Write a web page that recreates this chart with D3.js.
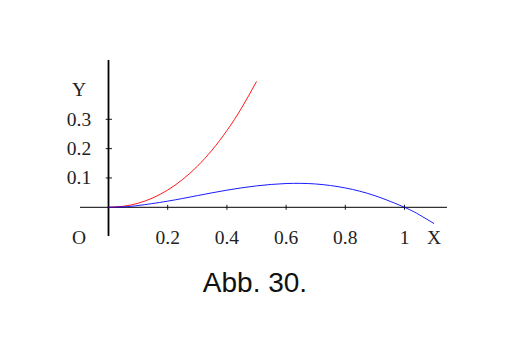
<!DOCTYPE html>
<html><head><meta charset="utf-8">
<script src="https://cdn.jsdelivr.net/npm/d3@7"></script>
<style>body{margin:0;background:#fff}svg{display:block}</style>
</head><body>
<script>
const redX = [0, 0.05, 0.1, 0.15, 0.2, 0.25, 0.3, 0.35, 0.4, 0.45, 0.5];
const redY = [0, 0.0034, 0.0139, 0.0322, 0.0589, 0.0945, 0.1398, 0.1952, 0.2614, 0.3391, 0.4288];
const blueX = [0, 0.05, 0.1, 0.2, 0.3, 0.4, 0.5, 0.6, 0.7, 0.8, 0.9, 1.0, 1.05, 1.1];
const blueY = [0, 0.0016, 0.0061, 0.021, 0.0398, 0.0584, 0.0730, 0.0810, 0.0795, 0.0660, 0.0395, 0, -0.0255, -0.0555];
const xTicks = [0.2, 0.4, 0.6, 0.8, 1];
const xTickLabels = ["0.2", "0.4", "0.6", "0.8", "1"];
const yTicks = [0.1, 0.2, 0.3];
const yTickLabels = ["0.1", "0.2", "0.3"];
const title = "Abb. 30.";

const W = 509, H = 358;
const svg = d3.select("body").append("svg").attr("width", W).attr("height", H);
const x = d3.scaleLinear().domain([0, 1]).range([108.5, 404.5]);
const y = d3.scaleLinear().domain([0, 0.3]).range([207.3, 119.3]);

// axes
svg.append("line").attr("x1", 80).attr("x2", 447).attr("y1", y(0)).attr("y2", y(0))
  .attr("stroke", "#000").attr("stroke-width", 1);
svg.append("line").attr("x1", x(0)).attr("x2", x(0)).attr("y1", 60).attr("y2", 236)
  .attr("stroke", "#000").attr("stroke-width", 1.8);

xTicks.forEach(t => {
  svg.append("line").attr("x1", x(t)).attr("x2", x(t)).attr("y1", y(0) - 2.5).attr("y2", y(0) + 2.5)
    .attr("stroke", "#000").attr("stroke-width", 0.9);
});
yTicks.forEach(t => {
  svg.append("line").attr("x1", x(0) - 2.8).attr("x2", x(0) + 3.5).attr("y1", y(t)).attr("y2", y(t))
    .attr("stroke", "#000").attr("stroke-width", 0.9);
});

const serif = "'Liberation Serif', 'DejaVu Serif', serif";
const fs = 19.5;
xTicks.forEach((t, i) => {
  svg.append("text").attr("x", x(t)).attr("y", 243.5).attr("text-anchor", "middle")
    .attr("font-family", serif).attr("font-size", fs).attr("fill", "#222").text(xTickLabels[i]);
});
yTicks.forEach((t, i) => {
  svg.append("text").attr("x", 79).attr("y", y(t) + 6.5).attr("text-anchor", "middle")
    .attr("font-family", serif).attr("font-size", fs).attr("fill", "#222").text(yTickLabels[i]);
});
svg.append("text").attr("x", 79).attr("y", 96).attr("text-anchor", "middle")
  .attr("font-family", serif).attr("font-size", fs).attr("fill", "#222").text("Y");
svg.append("text").attr("x", 79).attr("y", 244).attr("text-anchor", "middle")
  .attr("font-family", serif).attr("font-size", fs).attr("fill", "#222").text("O");
svg.append("text").attr("x", 434).attr("y", 243.5).attr("text-anchor", "middle")
  .attr("font-family", serif).attr("font-size", fs).attr("fill", "#222").text("X");

const line = d3.line().x(d => x(d[0])).y(d => y(d[1])).curve(d3.curveNatural);
svg.append("path").datum(redX.map((v, i) => [v, redY[i]])).attr("d", line)
  .attr("fill", "none").attr("stroke", "#ff0000").attr("stroke-width", 0.9);
svg.append("path").datum(blueX.map((v, i) => [v, blueY[i]])).attr("d", line)
  .attr("fill", "none").attr("stroke", "#0000ff").attr("stroke-width", 0.9);

svg.append("text").attr("x", 255).attr("y", 291.5).attr("text-anchor", "middle")
  .attr("font-family", "'Liberation Sans', Arial, sans-serif").attr("font-size", 28)
  .attr("fill", "#111").text(title);
</script>
</body></html>
